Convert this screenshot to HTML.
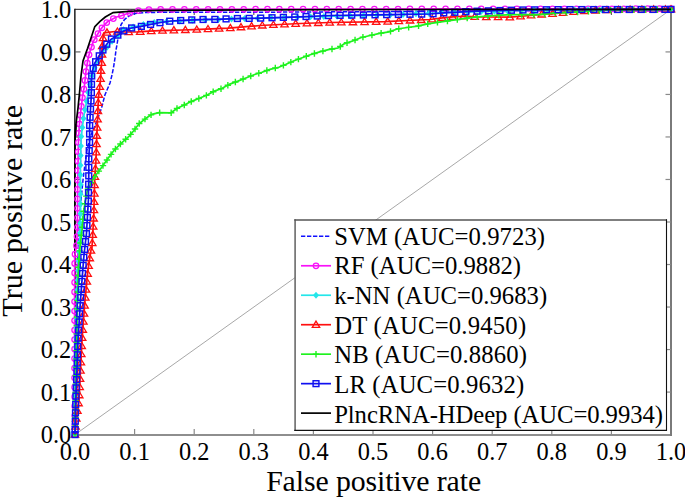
<!DOCTYPE html>
<html><head><meta charset="utf-8"><style>
html,body{margin:0;padding:0;background:#fff;}
svg{display:block;}
text{font-family:"Liberation Serif",serif;fill:#000;}
</style></head><body>
<svg width="685" height="499" viewBox="0 0 685 499">
<rect width="685" height="499" fill="#fff"/>
<line x1="75.0" y1="434.6" x2="671.0" y2="9.4" stroke="#a8a8a8" stroke-width="1"/>
<line x1="74" y1="435" x2="672" y2="435" stroke="#8e8e8e" stroke-width="2"/>
<line x1="671" y1="436" x2="671" y2="9" stroke="#7a7a7a" stroke-width="2"/>
<line x1="74.85" y1="9.4" x2="671" y2="9.4" stroke="#444" stroke-width="1.2"/>
<line x1="74.85" y1="435" x2="74.85" y2="8.8" stroke="#1e1e1e" stroke-width="1.5"/>
<line x1="134.6" y1="434.6" x2="134.6" y2="429.1" stroke="#8a8a8a" stroke-width="1.2"/>
<line x1="134.6" y1="9.4" x2="134.6" y2="14.9" stroke="#555" stroke-width="1.1"/>
<line x1="75" y1="392.08" x2="80.5" y2="392.08" stroke="#555" stroke-width="1.1"/>
<line x1="671" y1="392.08" x2="665.5" y2="392.08" stroke="#8a8a8a" stroke-width="1.2"/>
<line x1="194.2" y1="434.6" x2="194.2" y2="429.1" stroke="#8a8a8a" stroke-width="1.2"/>
<line x1="194.2" y1="9.4" x2="194.2" y2="14.9" stroke="#555" stroke-width="1.1"/>
<line x1="75" y1="349.56" x2="80.5" y2="349.56" stroke="#555" stroke-width="1.1"/>
<line x1="671" y1="349.56" x2="665.5" y2="349.56" stroke="#8a8a8a" stroke-width="1.2"/>
<line x1="253.8" y1="434.6" x2="253.8" y2="429.1" stroke="#8a8a8a" stroke-width="1.2"/>
<line x1="253.8" y1="9.4" x2="253.8" y2="14.9" stroke="#555" stroke-width="1.1"/>
<line x1="75" y1="307.04" x2="80.5" y2="307.04" stroke="#555" stroke-width="1.1"/>
<line x1="671" y1="307.04" x2="665.5" y2="307.04" stroke="#8a8a8a" stroke-width="1.2"/>
<line x1="313.4" y1="434.6" x2="313.4" y2="429.1" stroke="#8a8a8a" stroke-width="1.2"/>
<line x1="313.4" y1="9.4" x2="313.4" y2="14.9" stroke="#555" stroke-width="1.1"/>
<line x1="75" y1="264.52" x2="80.5" y2="264.52" stroke="#555" stroke-width="1.1"/>
<line x1="671" y1="264.52" x2="665.5" y2="264.52" stroke="#8a8a8a" stroke-width="1.2"/>
<line x1="373" y1="434.6" x2="373" y2="429.1" stroke="#8a8a8a" stroke-width="1.2"/>
<line x1="373" y1="9.4" x2="373" y2="14.9" stroke="#555" stroke-width="1.1"/>
<line x1="75" y1="222" x2="80.5" y2="222" stroke="#555" stroke-width="1.1"/>
<line x1="671" y1="222" x2="665.5" y2="222" stroke="#8a8a8a" stroke-width="1.2"/>
<line x1="432.6" y1="434.6" x2="432.6" y2="429.1" stroke="#8a8a8a" stroke-width="1.2"/>
<line x1="432.6" y1="9.4" x2="432.6" y2="14.9" stroke="#555" stroke-width="1.1"/>
<line x1="75" y1="179.48" x2="80.5" y2="179.48" stroke="#555" stroke-width="1.1"/>
<line x1="671" y1="179.48" x2="665.5" y2="179.48" stroke="#8a8a8a" stroke-width="1.2"/>
<line x1="492.2" y1="434.6" x2="492.2" y2="429.1" stroke="#8a8a8a" stroke-width="1.2"/>
<line x1="492.2" y1="9.4" x2="492.2" y2="14.9" stroke="#555" stroke-width="1.1"/>
<line x1="75" y1="136.96" x2="80.5" y2="136.96" stroke="#555" stroke-width="1.1"/>
<line x1="671" y1="136.96" x2="665.5" y2="136.96" stroke="#8a8a8a" stroke-width="1.2"/>
<line x1="551.8" y1="434.6" x2="551.8" y2="429.1" stroke="#8a8a8a" stroke-width="1.2"/>
<line x1="551.8" y1="9.4" x2="551.8" y2="14.9" stroke="#555" stroke-width="1.1"/>
<line x1="75" y1="94.44" x2="80.5" y2="94.44" stroke="#555" stroke-width="1.1"/>
<line x1="671" y1="94.44" x2="665.5" y2="94.44" stroke="#8a8a8a" stroke-width="1.2"/>
<line x1="611.4" y1="434.6" x2="611.4" y2="429.1" stroke="#8a8a8a" stroke-width="1.2"/>
<line x1="611.4" y1="9.4" x2="611.4" y2="14.9" stroke="#555" stroke-width="1.1"/>
<line x1="75" y1="51.92" x2="80.5" y2="51.92" stroke="#555" stroke-width="1.1"/>
<line x1="671" y1="51.92" x2="665.5" y2="51.92" stroke="#8a8a8a" stroke-width="1.2"/>
<polyline points="74.85,434.6 74.85,300 74.85,200 75,140 76,124" fill="none" stroke="#000000" stroke-width="1.7" stroke-linejoin="miter"/>
<polyline points="75,434.6 75.5,350 77,280 79,230 81,200 83,180 84,172 84.8,165.5 87,150 91,135 94.4,127 97.6,119 101.6,107.8 104.9,95 107,90 110,83 112,75 113.6,67 115,58 116,50 117,44.7 118.3,36.3 119.5,29 121.3,24.2 124.5,19.6 129.8,15.3 135,13.5 143.8,12.6 160,12.3 250,12.3 400,11.5 550,10.3 671,9.4" fill="none" stroke="#1010ff" stroke-width="1.5" stroke-dasharray="4.3 1.7"/>
<polyline points="74.85,434.6 74.6,380 74.6,300 74.7,256 76.8,244 77.4,225 77.6,190 78,165 78.4,143 79.2,127 80.8,111 82.5,97 84.3,87 85.3,78 86,71 87,65 88,59 89.5,53 91.5,47 93.5,41 96,36.9 98.5,32.7 100.9,29 103.9,25.4 107.5,21.8 111.7,19.4 116.5,17 121.3,15.8 126.1,14 130.9,12.8 136,11 145,9.6 160,9.4 400,9 671,8.7" fill="none" stroke="#f812f8" stroke-width="1.7"/>
<circle cx="74.85" cy="434.6" r="2.75" fill="none" stroke="#f812f8" stroke-width="1.25"/>
<circle cx="74.81" cy="425.11" r="2.75" fill="none" stroke="#f812f8" stroke-width="1.25"/>
<circle cx="74.76" cy="415.62" r="2.75" fill="none" stroke="#f812f8" stroke-width="1.25"/>
<circle cx="74.72" cy="406.13" r="2.75" fill="none" stroke="#f812f8" stroke-width="1.25"/>
<circle cx="74.68" cy="396.64" r="2.75" fill="none" stroke="#f812f8" stroke-width="1.25"/>
<circle cx="74.63" cy="387.16" r="2.75" fill="none" stroke="#f812f8" stroke-width="1.25"/>
<circle cx="74.6" cy="377.66" r="2.75" fill="none" stroke="#f812f8" stroke-width="1.25"/>
<circle cx="74.6" cy="368.14" r="2.75" fill="none" stroke="#f812f8" stroke-width="1.25"/>
<circle cx="74.6" cy="358.62" r="2.75" fill="none" stroke="#f812f8" stroke-width="1.25"/>
<circle cx="74.6" cy="349.1" r="2.75" fill="none" stroke="#f812f8" stroke-width="1.25"/>
<circle cx="74.6" cy="339.58" r="2.75" fill="none" stroke="#f812f8" stroke-width="1.25"/>
<circle cx="74.6" cy="330.06" r="2.75" fill="none" stroke="#f812f8" stroke-width="1.25"/>
<circle cx="74.6" cy="320.54" r="2.75" fill="none" stroke="#f812f8" stroke-width="1.25"/>
<circle cx="74.6" cy="311.02" r="2.75" fill="none" stroke="#f812f8" stroke-width="1.25"/>
<circle cx="74.6" cy="301.5" r="2.75" fill="none" stroke="#f812f8" stroke-width="1.25"/>
<circle cx="74.62" cy="291.99" r="2.75" fill="none" stroke="#f812f8" stroke-width="1.25"/>
<circle cx="74.64" cy="282.49" r="2.75" fill="none" stroke="#f812f8" stroke-width="1.25"/>
<circle cx="74.66" cy="272.98" r="2.75" fill="none" stroke="#f812f8" stroke-width="1.25"/>
<circle cx="74.68" cy="263.48" r="2.75" fill="none" stroke="#f812f8" stroke-width="1.25"/>
<circle cx="75.02" cy="254.2" r="2.75" fill="none" stroke="#f812f8" stroke-width="1.25"/>
<circle cx="76.5" cy="245.73" r="2.75" fill="none" stroke="#f812f8" stroke-width="1.25"/>
<circle cx="77.03" cy="236.6" r="2.75" fill="none" stroke="#f812f8" stroke-width="1.25"/>
<circle cx="77.33" cy="227.29" r="2.75" fill="none" stroke="#f812f8" stroke-width="1.25"/>
<circle cx="77.44" cy="217.85" r="2.75" fill="none" stroke="#f812f8" stroke-width="1.25"/>
<circle cx="77.5" cy="208.37" r="2.75" fill="none" stroke="#f812f8" stroke-width="1.25"/>
<circle cx="77.55" cy="198.89" r="2.75" fill="none" stroke="#f812f8" stroke-width="1.25"/>
<circle cx="77.61" cy="189.41" r="2.75" fill="none" stroke="#f812f8" stroke-width="1.25"/>
<circle cx="77.76" cy="180" r="2.75" fill="none" stroke="#f812f8" stroke-width="1.25"/>
<circle cx="77.91" cy="170.58" r="2.75" fill="none" stroke="#f812f8" stroke-width="1.25"/>
<circle cx="78.07" cy="161.18" r="2.75" fill="none" stroke="#f812f8" stroke-width="1.25"/>
<circle cx="78.24" cy="151.78" r="2.75" fill="none" stroke="#f812f8" stroke-width="1.25"/>
<circle cx="78.43" cy="142.39" r="2.75" fill="none" stroke="#f812f8" stroke-width="1.25"/>
<circle cx="78.89" cy="133.2" r="2.75" fill="none" stroke="#f812f8" stroke-width="1.25"/>
<circle cx="79.49" cy="124.11" r="2.75" fill="none" stroke="#f812f8" stroke-width="1.25"/>
<circle cx="80.38" cy="115.23" r="2.75" fill="none" stroke="#f812f8" stroke-width="1.25"/>
<circle cx="81.36" cy="106.41" r="2.75" fill="none" stroke="#f812f8" stroke-width="1.25"/>
<circle cx="82.42" cy="97.65" r="2.75" fill="none" stroke="#f812f8" stroke-width="1.25"/>
<circle cx="83.91" cy="89.19" r="2.75" fill="none" stroke="#f812f8" stroke-width="1.25"/>
<circle cx="85.03" cy="80.47" r="2.75" fill="none" stroke="#f812f8" stroke-width="1.25"/>
<circle cx="85.94" cy="71.6" r="2.75" fill="none" stroke="#f812f8" stroke-width="1.25"/>
<circle cx="87.32" cy="63.07" r="2.75" fill="none" stroke="#f812f8" stroke-width="1.25"/>
<circle cx="89.05" cy="54.78" r="2.75" fill="none" stroke="#f812f8" stroke-width="1.25"/>
<circle cx="91.5" cy="47.01" r="2.75" fill="none" stroke="#f812f8" stroke-width="1.25"/>
<circle cx="94.31" cy="39.68" r="2.75" fill="none" stroke="#f812f8" stroke-width="1.25"/>
<circle cx="97.95" cy="33.62" r="2.75" fill="none" stroke="#f812f8" stroke-width="1.25"/>
<circle cx="101.92" cy="27.78" r="2.75" fill="none" stroke="#f812f8" stroke-width="1.25"/>
<circle cx="106.74" cy="22.56" r="2.75" fill="none" stroke="#f812f8" stroke-width="1.25"/>
<circle cx="113.33" cy="18.59" r="2.75" fill="none" stroke="#f812f8" stroke-width="1.25"/>
<circle cx="121.47" cy="15.74" r="2.75" fill="none" stroke="#f812f8" stroke-width="1.25"/>
<circle cx="129.86" cy="13.06" r="2.75" fill="none" stroke="#f812f8" stroke-width="1.25"/>
<circle cx="138.51" cy="10.61" r="2.75" fill="none" stroke="#f812f8" stroke-width="1.25"/>
<circle cx="148.93" cy="9.55" r="2.75" fill="none" stroke="#f812f8" stroke-width="1.25"/>
<circle cx="160.62" cy="9.4" r="2.75" fill="none" stroke="#f812f8" stroke-width="1.25"/>
<circle cx="172.49" cy="9.38" r="2.75" fill="none" stroke="#f812f8" stroke-width="1.25"/>
<circle cx="184.36" cy="9.36" r="2.75" fill="none" stroke="#f812f8" stroke-width="1.25"/>
<circle cx="196.23" cy="9.34" r="2.75" fill="none" stroke="#f812f8" stroke-width="1.25"/>
<circle cx="208.11" cy="9.32" r="2.75" fill="none" stroke="#f812f8" stroke-width="1.25"/>
<circle cx="219.98" cy="9.3" r="2.75" fill="none" stroke="#f812f8" stroke-width="1.25"/>
<circle cx="231.85" cy="9.28" r="2.75" fill="none" stroke="#f812f8" stroke-width="1.25"/>
<circle cx="243.72" cy="9.26" r="2.75" fill="none" stroke="#f812f8" stroke-width="1.25"/>
<circle cx="255.6" cy="9.24" r="2.75" fill="none" stroke="#f812f8" stroke-width="1.25"/>
<circle cx="267.47" cy="9.22" r="2.75" fill="none" stroke="#f812f8" stroke-width="1.25"/>
<circle cx="279.34" cy="9.2" r="2.75" fill="none" stroke="#f812f8" stroke-width="1.25"/>
<circle cx="291.21" cy="9.18" r="2.75" fill="none" stroke="#f812f8" stroke-width="1.25"/>
<circle cx="303.08" cy="9.16" r="2.75" fill="none" stroke="#f812f8" stroke-width="1.25"/>
<circle cx="314.96" cy="9.14" r="2.75" fill="none" stroke="#f812f8" stroke-width="1.25"/>
<circle cx="326.83" cy="9.12" r="2.75" fill="none" stroke="#f812f8" stroke-width="1.25"/>
<circle cx="338.7" cy="9.1" r="2.75" fill="none" stroke="#f812f8" stroke-width="1.25"/>
<circle cx="350.57" cy="9.08" r="2.75" fill="none" stroke="#f812f8" stroke-width="1.25"/>
<circle cx="362.45" cy="9.06" r="2.75" fill="none" stroke="#f812f8" stroke-width="1.25"/>
<circle cx="374.32" cy="9.04" r="2.75" fill="none" stroke="#f812f8" stroke-width="1.25"/>
<circle cx="386.19" cy="9.02" r="2.75" fill="none" stroke="#f812f8" stroke-width="1.25"/>
<circle cx="398.06" cy="9" r="2.75" fill="none" stroke="#f812f8" stroke-width="1.25"/>
<circle cx="409.94" cy="8.99" r="2.75" fill="none" stroke="#f812f8" stroke-width="1.25"/>
<circle cx="421.82" cy="8.98" r="2.75" fill="none" stroke="#f812f8" stroke-width="1.25"/>
<circle cx="433.71" cy="8.96" r="2.75" fill="none" stroke="#f812f8" stroke-width="1.25"/>
<circle cx="445.59" cy="8.95" r="2.75" fill="none" stroke="#f812f8" stroke-width="1.25"/>
<circle cx="457.47" cy="8.94" r="2.75" fill="none" stroke="#f812f8" stroke-width="1.25"/>
<circle cx="469.35" cy="8.92" r="2.75" fill="none" stroke="#f812f8" stroke-width="1.25"/>
<circle cx="481.23" cy="8.91" r="2.75" fill="none" stroke="#f812f8" stroke-width="1.25"/>
<circle cx="493.11" cy="8.9" r="2.75" fill="none" stroke="#f812f8" stroke-width="1.25"/>
<circle cx="505" cy="8.88" r="2.75" fill="none" stroke="#f812f8" stroke-width="1.25"/>
<circle cx="516.88" cy="8.87" r="2.75" fill="none" stroke="#f812f8" stroke-width="1.25"/>
<circle cx="528.76" cy="8.86" r="2.75" fill="none" stroke="#f812f8" stroke-width="1.25"/>
<circle cx="540.64" cy="8.84" r="2.75" fill="none" stroke="#f812f8" stroke-width="1.25"/>
<circle cx="552.52" cy="8.83" r="2.75" fill="none" stroke="#f812f8" stroke-width="1.25"/>
<circle cx="564.4" cy="8.82" r="2.75" fill="none" stroke="#f812f8" stroke-width="1.25"/>
<circle cx="576.29" cy="8.8" r="2.75" fill="none" stroke="#f812f8" stroke-width="1.25"/>
<circle cx="588.17" cy="8.79" r="2.75" fill="none" stroke="#f812f8" stroke-width="1.25"/>
<circle cx="600.05" cy="8.78" r="2.75" fill="none" stroke="#f812f8" stroke-width="1.25"/>
<circle cx="611.93" cy="8.77" r="2.75" fill="none" stroke="#f812f8" stroke-width="1.25"/>
<circle cx="623.81" cy="8.75" r="2.75" fill="none" stroke="#f812f8" stroke-width="1.25"/>
<circle cx="635.69" cy="8.74" r="2.75" fill="none" stroke="#f812f8" stroke-width="1.25"/>
<circle cx="647.57" cy="8.73" r="2.75" fill="none" stroke="#f812f8" stroke-width="1.25"/>
<circle cx="659.46" cy="8.71" r="2.75" fill="none" stroke="#f812f8" stroke-width="1.25"/>
<circle cx="671" cy="8.7" r="2.75" fill="none" stroke="#f812f8" stroke-width="1.25"/>
<polyline points="75,434.6 75.5,380 76.5,320 77.8,280 79.5,247 80.5,220 80.6,190 80.3,172 80.5,164 80.8,150 81.2,137 82.4,127 84,115 85.8,106 88,94 91,80 95.6,64.2 99.5,58 104,51 109,45 113,40 118,35.5 122.8,30 130,27.5 140,25.6 147.3,23.2 160,21.8 200,20 250,18.4 300,17 390,15 450,12.4 520,10.6 560,9.8 671,9.4" fill="none" stroke="#24e6ea" stroke-width="1.7"/>
<path d="M75 431.1L78.01 434.6L75 438.1L71.99 434.6Z" fill="#24e6ea"/>
<path d="M75.09 421.39L78.1 424.89L75.09 428.39L72.08 424.89Z" fill="#24e6ea"/>
<path d="M75.18 411.68L78.19 415.18L75.18 418.68L72.17 415.18Z" fill="#24e6ea"/>
<path d="M75.27 401.97L78.28 405.47L75.27 408.97L72.26 405.47Z" fill="#24e6ea"/>
<path d="M75.36 392.25L78.37 395.75L75.36 399.25L72.35 395.75Z" fill="#24e6ea"/>
<path d="M75.44 382.54L78.45 386.04L75.44 389.54L72.43 386.04Z" fill="#24e6ea"/>
<path d="M75.56 372.85L78.57 376.35L75.56 379.85L72.55 376.35Z" fill="#24e6ea"/>
<path d="M75.72 363.19L78.73 366.69L75.72 370.19L72.71 366.69Z" fill="#24e6ea"/>
<path d="M75.88 353.53L78.89 357.03L75.88 360.53L72.87 357.03Z" fill="#24e6ea"/>
<path d="M76.04 343.87L79.05 347.37L76.04 350.87L73.03 347.37Z" fill="#24e6ea"/>
<path d="M76.2 334.21L79.21 337.71L76.2 341.21L73.19 337.71Z" fill="#24e6ea"/>
<path d="M76.37 324.55L79.38 328.05L76.37 331.55L73.36 328.05Z" fill="#24e6ea"/>
<path d="M76.55 314.91L79.56 318.41L76.55 321.91L73.54 318.41Z" fill="#24e6ea"/>
<path d="M76.86 305.36L79.87 308.86L76.86 312.36L73.85 308.86Z" fill="#24e6ea"/>
<path d="M77.17 295.8L80.18 299.3L77.17 302.8L74.16 299.3Z" fill="#24e6ea"/>
<path d="M77.48 286.25L80.49 289.75L77.48 293.25L74.47 289.75Z" fill="#24e6ea"/>
<path d="M77.79 276.7L80.8 280.2L77.79 283.7L74.78 280.2Z" fill="#24e6ea"/>
<path d="M78.28 267.26L81.29 270.76L78.28 274.26L75.27 270.76Z" fill="#24e6ea"/>
<path d="M78.76 257.84L81.77 261.34L78.76 264.84L75.75 261.34Z" fill="#24e6ea"/>
<path d="M79.25 248.41L82.26 251.91L79.25 255.41L76.24 251.91Z" fill="#24e6ea"/>
<path d="M79.67 238.94L82.68 242.44L79.67 245.94L76.66 242.44Z" fill="#24e6ea"/>
<path d="M80.02 229.41L83.03 232.91L80.02 236.41L77.01 232.91Z" fill="#24e6ea"/>
<path d="M80.37 219.89L83.38 223.39L80.37 226.89L77.36 223.39Z" fill="#24e6ea"/>
<path d="M80.52 210.22L83.53 213.72L80.52 217.22L77.51 213.72Z" fill="#24e6ea"/>
<path d="M80.55 200.47L83.56 203.97L80.55 207.47L77.54 203.97Z" fill="#24e6ea"/>
<path d="M80.59 190.71L83.6 194.21L80.59 197.71L77.58 194.21Z" fill="#24e6ea"/>
<path d="M80.51 181.02L83.52 184.52L80.51 188.02L77.5 184.52Z" fill="#24e6ea"/>
<path d="M80.35 171.36L83.36 174.86L80.35 178.36L77.34 174.86Z" fill="#24e6ea"/>
<path d="M80.47 161.74L83.48 165.24L80.47 168.74L77.46 165.24Z" fill="#24e6ea"/>
<path d="M80.68 152.11L83.69 155.61L80.68 159.11L77.67 155.61Z" fill="#24e6ea"/>
<path d="M80.92 142.51L83.93 146.01L80.92 149.51L77.91 146.01Z" fill="#24e6ea"/>
<path d="M81.26 132.98L84.27 136.48L81.26 139.98L78.25 136.48Z" fill="#24e6ea"/>
<path d="M82.34 123.97L85.35 127.47L82.34 130.97L79.33 127.47Z" fill="#24e6ea"/>
<path d="M83.53 115.04L86.54 118.54L83.53 122.04L80.52 118.54Z" fill="#24e6ea"/>
<path d="M85.03 106.34L88.04 109.84L85.03 113.34L82.02 109.84Z" fill="#24e6ea"/>
<path d="M86.67 97.74L89.68 101.24L86.67 104.74L83.66 101.24Z" fill="#24e6ea"/>
<path d="M88.29 89.12L91.3 92.62L88.29 96.12L85.28 92.62Z" fill="#24e6ea"/>
<path d="M90.11 80.65L93.12 84.15L90.11 87.65L87.1 84.15Z" fill="#24e6ea"/>
<path d="M92.2 72.37L95.21 75.87L92.2 79.37L89.19 75.87Z" fill="#24e6ea"/>
<path d="M94.56 64.27L97.57 67.77L94.56 71.27L91.55 67.77Z" fill="#24e6ea"/>
<path d="M97.97 56.93L100.98 60.43L97.97 63.93L94.96 60.43Z" fill="#24e6ea"/>
<path d="M102.25 50.22L105.26 53.72L102.25 57.22L99.24 53.72Z" fill="#24e6ea"/>
<path d="M107.03 43.86L110.04 47.36L107.03 50.86L104.02 47.36Z" fill="#24e6ea"/>
<path d="M112.06 37.68L115.07 41.18L112.06 44.68L109.05 41.18Z" fill="#24e6ea"/>
<path d="M117.91 32.08L120.92 35.58L117.91 39.08L114.9 35.58Z" fill="#24e6ea"/>
<path d="M123.46 26.27L126.47 29.77L123.46 33.27L120.45 29.77Z" fill="#24e6ea"/>
<path d="M133.14 23.4L136.15 26.9L133.14 30.4L130.13 26.9Z" fill="#24e6ea"/>
<path d="M143.42 20.98L146.43 24.48L143.42 27.98L140.41 24.48Z" fill="#24e6ea"/>
<path d="M154.25 18.93L157.26 22.43L154.25 25.93L151.24 22.43Z" fill="#24e6ea"/>
<path d="M166.63 18L169.64 21.5L166.63 25L163.62 21.5Z" fill="#24e6ea"/>
<path d="M179.5 17.42L182.51 20.92L179.5 24.42L176.49 20.92Z" fill="#24e6ea"/>
<path d="M192.38 16.84L195.39 20.34L192.38 23.84L189.37 20.34Z" fill="#24e6ea"/>
<path d="M205.34 16.33L208.35 19.83L205.34 23.33L202.33 19.83Z" fill="#24e6ea"/>
<path d="M218.44 15.91L221.45 19.41L218.44 22.91L215.43 19.41Z" fill="#24e6ea"/>
<path d="M231.54 15.49L234.55 18.99L231.54 22.49L228.53 18.99Z" fill="#24e6ea"/>
<path d="M244.64 15.07L247.65 18.57L244.64 22.07L241.63 18.57Z" fill="#24e6ea"/>
<path d="M257.78 14.68L260.79 18.18L257.78 21.68L254.77 18.18Z" fill="#24e6ea"/>
<path d="M270.94 14.31L273.95 17.81L270.94 21.31L267.93 17.81Z" fill="#24e6ea"/>
<path d="M284.11 13.94L287.12 17.44L284.11 20.94L281.1 17.44Z" fill="#24e6ea"/>
<path d="M297.28 13.58L300.29 17.08L297.28 20.58L294.27 17.08Z" fill="#24e6ea"/>
<path d="M310.53 13.27L313.54 16.77L310.53 20.27L307.52 16.77Z" fill="#24e6ea"/>
<path d="M323.8 12.97L326.81 16.47L323.8 19.97L320.79 16.47Z" fill="#24e6ea"/>
<path d="M337.08 12.68L340.09 16.18L337.08 19.68L334.07 16.18Z" fill="#24e6ea"/>
<path d="M350.35 12.38L353.36 15.88L350.35 19.38L347.34 15.88Z" fill="#24e6ea"/>
<path d="M363.62 12.09L366.63 15.59L363.62 19.09L360.61 15.59Z" fill="#24e6ea"/>
<path d="M376.89 11.79L379.9 15.29L376.89 18.79L373.88 15.29Z" fill="#24e6ea"/>
<path d="M390.16 11.49L393.17 14.99L390.16 18.49L387.15 14.99Z" fill="#24e6ea"/>
<path d="M403.06 10.93L406.07 14.43L403.06 17.93L400.05 14.43Z" fill="#24e6ea"/>
<path d="M415.96 10.37L418.97 13.87L415.96 17.37L412.95 13.87Z" fill="#24e6ea"/>
<path d="M428.87 9.82L431.88 13.32L428.87 16.82L425.86 13.32Z" fill="#24e6ea"/>
<path d="M441.77 9.26L444.78 12.76L441.77 16.26L438.76 12.76Z" fill="#24e6ea"/>
<path d="M454.78 8.78L457.79 12.28L454.78 15.78L451.77 12.28Z" fill="#24e6ea"/>
<path d="M467.99 8.44L471 11.94L467.99 15.44L464.98 11.94Z" fill="#24e6ea"/>
<path d="M481.2 8.1L484.21 11.6L481.2 15.1L478.19 11.6Z" fill="#24e6ea"/>
<path d="M494.41 7.76L497.42 11.26L494.41 14.76L491.4 11.26Z" fill="#24e6ea"/>
<path d="M507.62 7.42L510.63 10.92L507.62 14.42L504.61 10.92Z" fill="#24e6ea"/>
<path d="M520.84 7.08L523.85 10.58L520.84 14.08L517.83 10.58Z" fill="#24e6ea"/>
<path d="M534.15 6.82L537.16 10.32L534.15 13.82L531.14 10.32Z" fill="#24e6ea"/>
<path d="M547.46 6.55L550.47 10.05L547.46 13.55L544.45 10.05Z" fill="#24e6ea"/>
<path d="M560.79 6.3L563.8 9.8L560.79 13.3L557.78 9.8Z" fill="#24e6ea"/>
<path d="M574.41 6.25L577.42 9.75L574.41 13.25L571.4 9.75Z" fill="#24e6ea"/>
<path d="M588.02 6.2L591.03 9.7L588.02 13.2L585.01 9.7Z" fill="#24e6ea"/>
<path d="M601.64 6.15L604.65 9.65L601.64 13.15L598.63 9.65Z" fill="#24e6ea"/>
<path d="M615.26 6.1L618.27 9.6L615.26 13.1L612.25 9.6Z" fill="#24e6ea"/>
<path d="M628.87 6.05L631.88 9.55L628.87 13.05L625.86 9.55Z" fill="#24e6ea"/>
<path d="M642.49 6L645.5 9.5L642.49 13L639.48 9.5Z" fill="#24e6ea"/>
<path d="M656.11 5.95L659.12 9.45L656.11 12.95L653.1 9.45Z" fill="#24e6ea"/>
<path d="M671 5.9L674.01 9.4L671 12.9L667.99 9.4Z" fill="#24e6ea"/>
<polyline points="75,434.6 76,420 79,400 82,340 85,300 88,270 91,250 92,247.5 93.8,215 94.7,180 95.2,172 96,160 96.8,135 97.6,119 98.4,98 99.5,90 100.5,80 101,70 102,60 102,50 102.5,42 103.5,34 104,32.8 115,31.5 127,32 138,31.8 149,31.2 160,30.7 171,30.3 182.4,30 193.6,29.7 206,29.2 217,28.6 228.4,28.2 240.6,27.2 252,26.2 260,25.5 300,23.5 330,22.5 384.7,21.6 408,20.5 430,19.5 442.6,17.8 453,16.8 465.4,16.2 477.7,17 490.8,17 510,17.2 524.6,16 539,14.6 553.8,13.6 568.4,12.2 583,11 600,10.2 630,9.6 671,9.3" fill="none" stroke="#ff1010" stroke-width="1.7"/>
<path d="M75 431L78.7 437.2L71.3 437.2Z" fill="none" stroke="#ff1010" stroke-width="1.3" stroke-linejoin="miter"/>
<path d="M75.56 422.9L79.26 429.1L71.86 429.1Z" fill="none" stroke="#ff1010" stroke-width="1.3" stroke-linejoin="miter"/>
<path d="M76.23 414.88L79.93 421.08L72.53 421.08Z" fill="none" stroke="#ff1010" stroke-width="1.3" stroke-linejoin="miter"/>
<path d="M77.38 407.2L81.08 413.4L73.68 413.4Z" fill="none" stroke="#ff1010" stroke-width="1.3" stroke-linejoin="miter"/>
<path d="M78.53 399.53L82.23 405.73L74.83 405.73Z" fill="none" stroke="#ff1010" stroke-width="1.3" stroke-linejoin="miter"/>
<path d="M79.24 391.54L82.94 397.74L75.54 397.74Z" fill="none" stroke="#ff1010" stroke-width="1.3" stroke-linejoin="miter"/>
<path d="M79.65 383.33L83.35 389.53L75.95 389.53Z" fill="none" stroke="#ff1010" stroke-width="1.3" stroke-linejoin="miter"/>
<path d="M80.06 375.12L83.76 381.32L76.36 381.32Z" fill="none" stroke="#ff1010" stroke-width="1.3" stroke-linejoin="miter"/>
<path d="M80.47 366.91L84.17 373.11L76.77 373.11Z" fill="none" stroke="#ff1010" stroke-width="1.3" stroke-linejoin="miter"/>
<path d="M80.88 358.71L84.58 364.91L77.18 364.91Z" fill="none" stroke="#ff1010" stroke-width="1.3" stroke-linejoin="miter"/>
<path d="M81.3 350.5L85 356.7L77.6 356.7Z" fill="none" stroke="#ff1010" stroke-width="1.3" stroke-linejoin="miter"/>
<path d="M81.71 342.29L85.41 348.49L78.01 348.49Z" fill="none" stroke="#ff1010" stroke-width="1.3" stroke-linejoin="miter"/>
<path d="M82.17 334.13L85.87 340.33L78.47 340.33Z" fill="none" stroke="#ff1010" stroke-width="1.3" stroke-linejoin="miter"/>
<path d="M82.78 326.06L86.48 332.26L79.08 332.26Z" fill="none" stroke="#ff1010" stroke-width="1.3" stroke-linejoin="miter"/>
<path d="M83.38 317.99L87.08 324.19L79.68 324.19Z" fill="none" stroke="#ff1010" stroke-width="1.3" stroke-linejoin="miter"/>
<path d="M83.99 309.92L87.69 316.12L80.29 316.12Z" fill="none" stroke="#ff1010" stroke-width="1.3" stroke-linejoin="miter"/>
<path d="M84.59 301.85L88.29 308.05L80.89 308.05Z" fill="none" stroke="#ff1010" stroke-width="1.3" stroke-linejoin="miter"/>
<path d="M85.26 293.83L88.96 300.03L81.56 300.03Z" fill="none" stroke="#ff1010" stroke-width="1.3" stroke-linejoin="miter"/>
<path d="M86.05 285.9L89.75 292.1L82.35 292.1Z" fill="none" stroke="#ff1010" stroke-width="1.3" stroke-linejoin="miter"/>
<path d="M86.84 277.96L90.54 284.16L83.14 284.16Z" fill="none" stroke="#ff1010" stroke-width="1.3" stroke-linejoin="miter"/>
<path d="M87.64 270.03L91.34 276.23L83.94 276.23Z" fill="none" stroke="#ff1010" stroke-width="1.3" stroke-linejoin="miter"/>
<path d="M88.63 262.24L92.33 268.44L84.93 268.44Z" fill="none" stroke="#ff1010" stroke-width="1.3" stroke-linejoin="miter"/>
<path d="M89.78 254.56L93.48 260.76L86.08 260.76Z" fill="none" stroke="#ff1010" stroke-width="1.3" stroke-linejoin="miter"/>
<path d="M90.93 246.88L94.63 253.08L87.23 253.08Z" fill="none" stroke="#ff1010" stroke-width="1.3" stroke-linejoin="miter"/>
<path d="M92.25 239.33L95.95 245.53L88.55 245.53Z" fill="none" stroke="#ff1010" stroke-width="1.3" stroke-linejoin="miter"/>
<path d="M92.71 231.15L96.41 237.35L89.01 237.35Z" fill="none" stroke="#ff1010" stroke-width="1.3" stroke-linejoin="miter"/>
<path d="M93.16 222.97L96.86 229.17L89.46 229.17Z" fill="none" stroke="#ff1010" stroke-width="1.3" stroke-linejoin="miter"/>
<path d="M93.61 214.8L97.31 221L89.91 221Z" fill="none" stroke="#ff1010" stroke-width="1.3" stroke-linejoin="miter"/>
<path d="M93.93 206.52L97.63 212.72L90.23 212.72Z" fill="none" stroke="#ff1010" stroke-width="1.3" stroke-linejoin="miter"/>
<path d="M94.14 198.18L97.84 204.38L90.44 204.38Z" fill="none" stroke="#ff1010" stroke-width="1.3" stroke-linejoin="miter"/>
<path d="M94.35 189.83L98.05 196.03L90.65 196.03Z" fill="none" stroke="#ff1010" stroke-width="1.3" stroke-linejoin="miter"/>
<path d="M94.57 181.48L98.27 187.68L90.87 187.68Z" fill="none" stroke="#ff1010" stroke-width="1.3" stroke-linejoin="miter"/>
<path d="M94.9 173.22L98.6 179.42L91.2 179.42Z" fill="none" stroke="#ff1010" stroke-width="1.3" stroke-linejoin="miter"/>
<path d="M95.42 165.09L99.12 171.29L91.72 171.29Z" fill="none" stroke="#ff1010" stroke-width="1.3" stroke-linejoin="miter"/>
<path d="M95.96 156.98L99.66 163.18L92.26 163.18Z" fill="none" stroke="#ff1010" stroke-width="1.3" stroke-linejoin="miter"/>
<path d="M96.25 148.68L99.95 154.88L92.55 154.88Z" fill="none" stroke="#ff1010" stroke-width="1.3" stroke-linejoin="miter"/>
<path d="M96.51 140.37L100.21 146.57L92.81 146.57Z" fill="none" stroke="#ff1010" stroke-width="1.3" stroke-linejoin="miter"/>
<path d="M96.78 132.06L100.48 138.26L93.08 138.26Z" fill="none" stroke="#ff1010" stroke-width="1.3" stroke-linejoin="miter"/>
<path d="M97.18 123.85L100.88 130.05L93.48 130.05Z" fill="none" stroke="#ff1010" stroke-width="1.3" stroke-linejoin="miter"/>
<path d="M97.59 115.64L101.29 121.84L93.89 121.84Z" fill="none" stroke="#ff1010" stroke-width="1.3" stroke-linejoin="miter"/>
<path d="M97.91 107.37L101.61 113.57L94.21 113.57Z" fill="none" stroke="#ff1010" stroke-width="1.3" stroke-linejoin="miter"/>
<path d="M98.22 99.09L101.92 105.29L94.52 105.29Z" fill="none" stroke="#ff1010" stroke-width="1.3" stroke-linejoin="miter"/>
<path d="M98.86 91.05L102.56 97.25L95.16 97.25Z" fill="none" stroke="#ff1010" stroke-width="1.3" stroke-linejoin="miter"/>
<path d="M99.82 83.23L103.52 89.43L96.12 89.43Z" fill="none" stroke="#ff1010" stroke-width="1.3" stroke-linejoin="miter"/>
<path d="M100.56 75.26L104.26 81.46L96.86 81.46Z" fill="none" stroke="#ff1010" stroke-width="1.3" stroke-linejoin="miter"/>
<path d="M100.97 67.05L104.67 73.25L97.27 73.25Z" fill="none" stroke="#ff1010" stroke-width="1.3" stroke-linejoin="miter"/>
<path d="M101.73 59.1L105.43 65.3L98.03 65.3Z" fill="none" stroke="#ff1010" stroke-width="1.3" stroke-linejoin="miter"/>
<path d="M102 50.79L105.7 56.99L98.3 56.99Z" fill="none" stroke="#ff1010" stroke-width="1.3" stroke-linejoin="miter"/>
<path d="M102.25 42.47L105.95 48.67L98.55 48.67Z" fill="none" stroke="#ff1010" stroke-width="1.3" stroke-linejoin="miter"/>
<path d="M102.99 34.5L106.69 40.7L99.29 40.7Z" fill="none" stroke="#ff1010" stroke-width="1.3" stroke-linejoin="miter"/>
<path d="M106.99 28.85L110.69 35.05L103.29 35.05Z" fill="none" stroke="#ff1010" stroke-width="1.3" stroke-linejoin="miter"/>
<path d="M117.42 28L121.12 34.2L113.72 34.2Z" fill="none" stroke="#ff1010" stroke-width="1.3" stroke-linejoin="miter"/>
<path d="M128.72 28.37L132.42 34.57L125.02 34.57Z" fill="none" stroke="#ff1010" stroke-width="1.3" stroke-linejoin="miter"/>
<path d="M140.21 28.08L143.91 34.28L136.51 34.28Z" fill="none" stroke="#ff1010" stroke-width="1.3" stroke-linejoin="miter"/>
<path d="M151.29 27.5L154.99 33.7L147.59 33.7Z" fill="none" stroke="#ff1010" stroke-width="1.3" stroke-linejoin="miter"/>
<path d="M162.51 27.01L166.21 33.21L158.81 33.21Z" fill="none" stroke="#ff1010" stroke-width="1.3" stroke-linejoin="miter"/>
<path d="M173.87 26.63L177.57 32.83L170.17 32.83Z" fill="none" stroke="#ff1010" stroke-width="1.3" stroke-linejoin="miter"/>
<path d="M185.35 26.32L189.05 32.52L181.65 32.52Z" fill="none" stroke="#ff1010" stroke-width="1.3" stroke-linejoin="miter"/>
<path d="M196.76 25.98L200.46 32.18L193.06 32.18Z" fill="none" stroke="#ff1010" stroke-width="1.3" stroke-linejoin="miter"/>
<path d="M207.99 25.5L211.69 31.7L204.29 31.7Z" fill="none" stroke="#ff1010" stroke-width="1.3" stroke-linejoin="miter"/>
<path d="M219.1 24.93L222.8 31.13L215.4 31.13Z" fill="none" stroke="#ff1010" stroke-width="1.3" stroke-linejoin="miter"/>
<path d="M230.32 24.45L234.02 30.65L226.62 30.65Z" fill="none" stroke="#ff1010" stroke-width="1.3" stroke-linejoin="miter"/>
<path d="M240.99 23.57L244.69 29.77L237.29 29.77Z" fill="none" stroke="#ff1010" stroke-width="1.3" stroke-linejoin="miter"/>
<path d="M251.59 22.64L255.29 28.84L247.89 28.84Z" fill="none" stroke="#ff1010" stroke-width="1.3" stroke-linejoin="miter"/>
<path d="M262.3 21.79L266 27.99L258.6 27.99Z" fill="none" stroke="#ff1010" stroke-width="1.3" stroke-linejoin="miter"/>
<path d="M273.42 21.23L277.12 27.43L269.72 27.43Z" fill="none" stroke="#ff1010" stroke-width="1.3" stroke-linejoin="miter"/>
<path d="M284.54 20.68L288.24 26.88L280.84 26.88Z" fill="none" stroke="#ff1010" stroke-width="1.3" stroke-linejoin="miter"/>
<path d="M295.66 20.12L299.36 26.32L291.96 26.32Z" fill="none" stroke="#ff1010" stroke-width="1.3" stroke-linejoin="miter"/>
<path d="M306.94 19.67L310.64 25.87L303.24 25.87Z" fill="none" stroke="#ff1010" stroke-width="1.3" stroke-linejoin="miter"/>
<path d="M318.31 19.29L322.01 25.49L314.61 25.49Z" fill="none" stroke="#ff1010" stroke-width="1.3" stroke-linejoin="miter"/>
<path d="M329.68 18.91L333.38 25.11L325.98 25.11Z" fill="none" stroke="#ff1010" stroke-width="1.3" stroke-linejoin="miter"/>
<path d="M341.3 18.72L345 24.92L337.6 24.92Z" fill="none" stroke="#ff1010" stroke-width="1.3" stroke-linejoin="miter"/>
<path d="M352.93 18.53L356.63 24.73L349.23 24.73Z" fill="none" stroke="#ff1010" stroke-width="1.3" stroke-linejoin="miter"/>
<path d="M364.56 18.34L368.26 24.54L360.86 24.54Z" fill="none" stroke="#ff1010" stroke-width="1.3" stroke-linejoin="miter"/>
<path d="M376.2 18.14L379.9 24.34L372.5 24.34Z" fill="none" stroke="#ff1010" stroke-width="1.3" stroke-linejoin="miter"/>
<path d="M387.7 17.86L391.4 24.06L384 24.06Z" fill="none" stroke="#ff1010" stroke-width="1.3" stroke-linejoin="miter"/>
<path d="M398.86 17.34L402.56 23.54L395.16 23.54Z" fill="none" stroke="#ff1010" stroke-width="1.3" stroke-linejoin="miter"/>
<path d="M410.03 16.81L413.73 23.01L406.33 23.01Z" fill="none" stroke="#ff1010" stroke-width="1.3" stroke-linejoin="miter"/>
<path d="M421.22 16.3L424.92 22.5L417.52 22.5Z" fill="none" stroke="#ff1010" stroke-width="1.3" stroke-linejoin="miter"/>
<path d="M432.15 15.61L435.85 21.81L428.45 21.81Z" fill="none" stroke="#ff1010" stroke-width="1.3" stroke-linejoin="miter"/>
<path d="M442.16 14.26L445.86 20.46L438.46 20.46Z" fill="none" stroke="#ff1010" stroke-width="1.3" stroke-linejoin="miter"/>
<path d="M452.63 13.24L456.33 19.44L448.93 19.44Z" fill="none" stroke="#ff1010" stroke-width="1.3" stroke-linejoin="miter"/>
<path d="M463.75 12.68L467.45 18.88L460.05 18.88Z" fill="none" stroke="#ff1010" stroke-width="1.3" stroke-linejoin="miter"/>
<path d="M474.69 13.21L478.39 19.41L470.99 19.41Z" fill="none" stroke="#ff1010" stroke-width="1.3" stroke-linejoin="miter"/>
<path d="M486.32 13.4L490.02 19.6L482.62 19.6Z" fill="none" stroke="#ff1010" stroke-width="1.3" stroke-linejoin="miter"/>
<path d="M498.11 13.48L501.81 19.68L494.41 19.68Z" fill="none" stroke="#ff1010" stroke-width="1.3" stroke-linejoin="miter"/>
<path d="M509.84 13.6L513.54 19.8L506.14 19.8Z" fill="none" stroke="#ff1010" stroke-width="1.3" stroke-linejoin="miter"/>
<path d="M520.53 12.74L524.23 18.94L516.83 18.94Z" fill="none" stroke="#ff1010" stroke-width="1.3" stroke-linejoin="miter"/>
<path d="M531.08 11.77L534.78 17.97L527.38 17.97Z" fill="none" stroke="#ff1010" stroke-width="1.3" stroke-linejoin="miter"/>
<path d="M541.65 10.82L545.35 17.02L537.95 17.02Z" fill="none" stroke="#ff1010" stroke-width="1.3" stroke-linejoin="miter"/>
<path d="M552.52 10.09L556.22 16.29L548.82 16.29Z" fill="none" stroke="#ff1010" stroke-width="1.3" stroke-linejoin="miter"/>
<path d="M563.06 9.12L566.76 15.32L559.36 15.32Z" fill="none" stroke="#ff1010" stroke-width="1.3" stroke-linejoin="miter"/>
<path d="M573.64 8.17L577.34 14.37L569.94 14.37Z" fill="none" stroke="#ff1010" stroke-width="1.3" stroke-linejoin="miter"/>
<path d="M584.37 7.34L588.07 13.54L580.67 13.54Z" fill="none" stroke="#ff1010" stroke-width="1.3" stroke-linejoin="miter"/>
<path d="M595.53 6.81L599.23 13.01L591.83 13.01Z" fill="none" stroke="#ff1010" stroke-width="1.3" stroke-linejoin="miter"/>
<path d="M606.95 6.47L610.65 12.67L603.25 12.67Z" fill="none" stroke="#ff1010" stroke-width="1.3" stroke-linejoin="miter"/>
<path d="M618.52 6.23L622.22 12.43L614.82 12.43Z" fill="none" stroke="#ff1010" stroke-width="1.3" stroke-linejoin="miter"/>
<path d="M630.1 6L633.8 12.2L626.4 12.2Z" fill="none" stroke="#ff1010" stroke-width="1.3" stroke-linejoin="miter"/>
<path d="M641.88 5.92L645.58 12.12L638.18 12.12Z" fill="none" stroke="#ff1010" stroke-width="1.3" stroke-linejoin="miter"/>
<path d="M653.66 5.83L657.36 12.03L649.96 12.03Z" fill="none" stroke="#ff1010" stroke-width="1.3" stroke-linejoin="miter"/>
<path d="M665.44 5.74L669.14 11.94L661.74 11.94Z" fill="none" stroke="#ff1010" stroke-width="1.3" stroke-linejoin="miter"/>
<path d="M671 5.7L674.7 11.9L667.3 11.9Z" fill="none" stroke="#ff1010" stroke-width="1.3" stroke-linejoin="miter"/>
<polyline points="75,434.6 75.5,400 76.2,360 77.3,305 78.5,270 79.5,252 82,230 83.8,210 87.4,190 94,177.6 102.1,166.8 108.5,157.8 113.9,150.5 121.1,143.3 129.2,136.1 133.7,130.7 139.2,123.5 146.4,118 151.8,114.4 159,112.6 171,112.8 177.2,108.2 183.8,105.3 191.1,101.6 199.9,98 207.2,95 213.7,91.4 221.8,88.5 229.8,84.1 237.9,81.1 245.2,78.2 254.7,74.5 262,72.3 270,69.4 278.8,67.2 286.1,64.3 294.1,60.7 302.2,57.7 310.2,54.8 319.7,51.9 328.4,49.7 338,48 344.6,43.6 353.4,40.7 360.7,37.7 370.1,35.5 379.6,33.4 389.1,31.9 397.2,29 407.4,27.5 417.6,26.1 427.8,23.9 436,22.6 446.3,21.2 456.5,19.7 466.7,18.2 477,16.8 487.2,16 498.8,15.3 510.5,14.6 524.6,14.6 539.2,14.6 553.8,13.1 568.4,12.4 583,11.7 597.6,10.5 620,9.8 671,9.3" fill="none" stroke="#1ef21e" stroke-width="1.7"/>
<path d="M71.8 434.6H78.2M75 431.4V437.8" stroke="#1ef21e" stroke-width="1.4"/>
<path d="M71.92 426.19H78.32M75.12 422.99V429.39" stroke="#1ef21e" stroke-width="1.4"/>
<path d="M72.04 417.77H78.44M75.24 414.57V420.97" stroke="#1ef21e" stroke-width="1.4"/>
<path d="M72.16 409.36H78.56M75.36 406.16V412.56" stroke="#1ef21e" stroke-width="1.4"/>
<path d="M72.29 400.95H78.69M75.49 397.75V404.15" stroke="#1ef21e" stroke-width="1.4"/>
<path d="M72.43 392.55H78.83M75.63 389.35V395.75" stroke="#1ef21e" stroke-width="1.4"/>
<path d="M72.58 384.16H78.98M75.78 380.96V387.36" stroke="#1ef21e" stroke-width="1.4"/>
<path d="M72.72 375.76H79.12M75.92 372.56V378.96" stroke="#1ef21e" stroke-width="1.4"/>
<path d="M72.87 367.37H79.27M76.07 364.17V370.57" stroke="#1ef21e" stroke-width="1.4"/>
<path d="M73.02 358.97H79.42M76.22 355.77V362.17" stroke="#1ef21e" stroke-width="1.4"/>
<path d="M73.19 350.59H79.59M76.39 347.39V353.79" stroke="#1ef21e" stroke-width="1.4"/>
<path d="M73.36 342.21H79.76M76.56 339.01V345.41" stroke="#1ef21e" stroke-width="1.4"/>
<path d="M73.52 333.83H79.92M76.72 330.63V337.03" stroke="#1ef21e" stroke-width="1.4"/>
<path d="M73.69 325.45H80.09M76.89 322.25V328.65" stroke="#1ef21e" stroke-width="1.4"/>
<path d="M73.86 317.07H80.26M77.06 313.87V320.27" stroke="#1ef21e" stroke-width="1.4"/>
<path d="M74.03 308.69H80.43M77.23 305.49V311.89" stroke="#1ef21e" stroke-width="1.4"/>
<path d="M74.26 300.36H80.66M77.46 297.16V303.56" stroke="#1ef21e" stroke-width="1.4"/>
<path d="M74.54 292.06H80.94M77.74 288.86V295.26" stroke="#1ef21e" stroke-width="1.4"/>
<path d="M74.83 283.76H81.23M78.03 280.56V286.96" stroke="#1ef21e" stroke-width="1.4"/>
<path d="M75.11 275.47H81.51M78.31 272.27V278.67" stroke="#1ef21e" stroke-width="1.4"/>
<path d="M75.45 267.21H81.85M78.65 264.01V270.41" stroke="#1ef21e" stroke-width="1.4"/>
<path d="M75.91 259.04H82.31M79.11 255.84V262.24" stroke="#1ef21e" stroke-width="1.4"/>
<path d="M76.42 250.9H82.82M79.62 247.7V254.1" stroke="#1ef21e" stroke-width="1.4"/>
<path d="M77.32 243.04H83.72M80.52 239.84V246.24" stroke="#1ef21e" stroke-width="1.4"/>
<path d="M78.21 235.18H84.61M81.41 231.98V238.38" stroke="#1ef21e" stroke-width="1.4"/>
<path d="M79.05 227.28H85.45M82.25 224.08V230.48" stroke="#1ef21e" stroke-width="1.4"/>
<path d="M79.76 219.29H86.16M82.96 216.09V222.49" stroke="#1ef21e" stroke-width="1.4"/>
<path d="M80.48 211.3H86.88M83.68 208.1V214.5" stroke="#1ef21e" stroke-width="1.4"/>
<path d="M81.73 203.7H88.13M84.93 200.5V206.9" stroke="#1ef21e" stroke-width="1.4"/>
<path d="M83.09 196.16H89.49M86.29 192.96V199.36" stroke="#1ef21e" stroke-width="1.4"/>
<path d="M84.79 188.88H91.19M87.99 185.68V192.08" stroke="#1ef21e" stroke-width="1.4"/>
<path d="M88.07 182.72H94.47M91.27 179.52V185.92" stroke="#1ef21e" stroke-width="1.4"/>
<path d="M91.5 176.67H97.9M94.7 173.47V179.87" stroke="#1ef21e" stroke-width="1.4"/>
<path d="M95.65 171.13H102.05M98.85 167.93V174.33" stroke="#1ef21e" stroke-width="1.4"/>
<path d="M99.77 165.58H106.17M102.97 162.38V168.78" stroke="#1ef21e" stroke-width="1.4"/>
<path d="M103.78 159.94H110.18M106.98 156.74V163.14" stroke="#1ef21e" stroke-width="1.4"/>
<path d="M107.85 154.35H114.25M111.05 151.15V157.55" stroke="#1ef21e" stroke-width="1.4"/>
<path d="M112.22 148.98H118.62M115.42 145.78V152.18" stroke="#1ef21e" stroke-width="1.4"/>
<path d="M117.18 144.02H123.58M120.38 140.82V147.22" stroke="#1ef21e" stroke-width="1.4"/>
<path d="M122.44 139.27H128.84M125.64 136.07V142.47" stroke="#1ef21e" stroke-width="1.4"/>
<path d="M127.46 134.35H133.86M130.66 131.15V137.55" stroke="#1ef21e" stroke-width="1.4"/>
<path d="M131.82 128.97H138.22M135.02 125.77V132.17" stroke="#1ef21e" stroke-width="1.4"/>
<path d="M136.03 123.48H142.43M139.23 120.28V126.68" stroke="#1ef21e" stroke-width="1.4"/>
<path d="M141.78 119.09H148.18M144.98 115.89V122.29" stroke="#1ef21e" stroke-width="1.4"/>
<path d="M147.83 114.91H154.23M151.03 111.71V118.11" stroke="#1ef21e" stroke-width="1.4"/>
<path d="M156.48 112.61H162.88M159.68 109.41V115.81" stroke="#1ef21e" stroke-width="1.4"/>
<path d="M167.96 112.68H174.36M171.16 109.48V115.88" stroke="#1ef21e" stroke-width="1.4"/>
<path d="M173.79 108.35H180.19M176.99 105.15V111.55" stroke="#1ef21e" stroke-width="1.4"/>
<path d="M181.08 105.06H187.48M184.28 101.86V108.26" stroke="#1ef21e" stroke-width="1.4"/>
<path d="M188.05 101.54H194.45M191.25 98.34V104.74" stroke="#1ef21e" stroke-width="1.4"/>
<path d="M195.62 98.44H202.02M198.82 95.24V101.64" stroke="#1ef21e" stroke-width="1.4"/>
<path d="M203.17 95.34H209.57M206.37 92.14V98.54" stroke="#1ef21e" stroke-width="1.4"/>
<path d="M209.97 91.69H216.37M213.17 88.49V94.89" stroke="#1ef21e" stroke-width="1.4"/>
<path d="M217.8 88.79H224.2M221 85.59V91.99" stroke="#1ef21e" stroke-width="1.4"/>
<path d="M224.65 85.18H231.05M227.85 81.98V88.38" stroke="#1ef21e" stroke-width="1.4"/>
<path d="M232.16 82.04H238.56M235.36 78.84V85.24" stroke="#1ef21e" stroke-width="1.4"/>
<path d="M239.87 79.05H246.27M243.07 75.85V82.25" stroke="#1ef21e" stroke-width="1.4"/>
<path d="M247.55 76.04H253.95M250.75 72.84V79.24" stroke="#1ef21e" stroke-width="1.4"/>
<path d="M255.58 73.27H261.98M258.78 70.07V76.47" stroke="#1ef21e" stroke-width="1.4"/>
<path d="M263.66 70.54H270.06M266.86 67.34V73.74" stroke="#1ef21e" stroke-width="1.4"/>
<path d="M272.1 68.07H278.5M275.3 64.87V71.27" stroke="#1ef21e" stroke-width="1.4"/>
<path d="M280.21 65.37H286.61M283.41 62.17V68.57" stroke="#1ef21e" stroke-width="1.4"/>
<path d="M287.64 62.17H294.04M290.84 58.97V65.37" stroke="#1ef21e" stroke-width="1.4"/>
<path d="M295.23 59.1H301.63M298.43 55.9V62.3" stroke="#1ef21e" stroke-width="1.4"/>
<path d="M303.1 56.21H309.5M306.3 53.01V59.41" stroke="#1ef21e" stroke-width="1.4"/>
<path d="M311.22 53.51H317.62M314.42 50.31V56.71" stroke="#1ef21e" stroke-width="1.4"/>
<path d="M319.72 51.09H326.12M322.92 47.89V54.29" stroke="#1ef21e" stroke-width="1.4"/>
<path d="M328.79 49.06H335.19M331.99 45.86V52.26" stroke="#1ef21e" stroke-width="1.4"/>
<path d="M337.08 46.48H343.48M340.28 43.28V49.68" stroke="#1ef21e" stroke-width="1.4"/>
<path d="M343.82 42.8H350.22M347.02 39.6V46" stroke="#1ef21e" stroke-width="1.4"/>
<path d="M351.84 40.03H358.24M355.04 36.83V43.23" stroke="#1ef21e" stroke-width="1.4"/>
<path d="M359.74 37.17H366.14M362.94 33.97V40.37" stroke="#1ef21e" stroke-width="1.4"/>
<path d="M368.73 35.09H375.13M371.93 31.89V38.29" stroke="#1ef21e" stroke-width="1.4"/>
<path d="M377.92 33.16H384.32M381.12 29.96V36.36" stroke="#1ef21e" stroke-width="1.4"/>
<path d="M387.34 31.38H393.74M390.54 28.18V34.58" stroke="#1ef21e" stroke-width="1.4"/>
<path d="M395.58 28.77H401.98M398.78 25.57V31.97" stroke="#1ef21e" stroke-width="1.4"/>
<path d="M405.46 27.33H411.86M408.66 24.13V30.53" stroke="#1ef21e" stroke-width="1.4"/>
<path d="M415.35 25.89H421.75M418.55 22.69V29.09" stroke="#1ef21e" stroke-width="1.4"/>
<path d="M424.49 23.92H430.89M427.69 20.72V27.12" stroke="#1ef21e" stroke-width="1.4"/>
<path d="M434.26 22.4H440.66M437.46 19.2V25.6" stroke="#1ef21e" stroke-width="1.4"/>
<path d="M444.24 21.03H450.64M447.44 17.83V24.23" stroke="#1ef21e" stroke-width="1.4"/>
<path d="M454.11 19.58H460.51M457.31 16.38V22.78" stroke="#1ef21e" stroke-width="1.4"/>
<path d="M463.99 18.13H470.39M467.19 14.93V21.33" stroke="#1ef21e" stroke-width="1.4"/>
<path d="M474 16.78H480.4M477.2 13.58V19.98" stroke="#1ef21e" stroke-width="1.4"/>
<path d="M484.74 15.96H491.14M487.94 12.76V19.16" stroke="#1ef21e" stroke-width="1.4"/>
<path d="M495.71 15.29H502.11M498.91 12.09V18.49" stroke="#1ef21e" stroke-width="1.4"/>
<path d="M506.69 14.64H513.09M509.89 11.44V17.84" stroke="#1ef21e" stroke-width="1.4"/>
<path d="M518.54 14.6H524.94M521.74 11.4V17.8" stroke="#1ef21e" stroke-width="1.4"/>
<path d="M530.44 14.6H536.84M533.64 11.4V17.8" stroke="#1ef21e" stroke-width="1.4"/>
<path d="M541.54 14.03H547.94M544.74 10.83V17.23" stroke="#1ef21e" stroke-width="1.4"/>
<path d="M552.04 13.03H558.44M555.24 9.83V16.23" stroke="#1ef21e" stroke-width="1.4"/>
<path d="M563.19 12.5H569.59M566.39 9.3V15.7" stroke="#1ef21e" stroke-width="1.4"/>
<path d="M574.35 11.96H580.75M577.55 8.76V15.16" stroke="#1ef21e" stroke-width="1.4"/>
<path d="M585.25 11.25H591.65M588.45 8.05V14.45" stroke="#1ef21e" stroke-width="1.4"/>
<path d="M596.03 10.45H602.43M599.23 7.25V13.65" stroke="#1ef21e" stroke-width="1.4"/>
<path d="M607.43 10.09H613.83M610.63 6.89V13.29" stroke="#1ef21e" stroke-width="1.4"/>
<path d="M618.89 9.78H625.29M622.09 6.58V12.98" stroke="#1ef21e" stroke-width="1.4"/>
<path d="M630.63 9.66H637.03M633.83 6.46V12.86" stroke="#1ef21e" stroke-width="1.4"/>
<path d="M642.37 9.55H648.77M645.57 6.35V12.75" stroke="#1ef21e" stroke-width="1.4"/>
<path d="M654.11 9.43H660.51M657.31 6.23V12.63" stroke="#1ef21e" stroke-width="1.4"/>
<path d="M667.8 9.3H674.2M671 6.1V12.5" stroke="#1ef21e" stroke-width="1.4"/>
<polyline points="75,434.6 75.8,400 77,370 78,340 80.5,300 82.8,270 84,255 86.5,233 88.4,200 88.8,172 88.8,159 89.6,143 89.6,127 90.4,111 91.2,98 91.5,89 91.5,80 91.8,75 92.5,70.6 94.5,63.6 98.5,57 102.6,50.5 106.5,44.5 111,39.3 117.5,35.4 123.6,31 131.5,28 140.3,26.6 150.8,24.4 161,22.5 171,21 182.4,20.4 193.6,19.8 204.9,19.4 216,19.4 228.4,18.8 240.6,18.4 252,18.4 300,16.8 330,15.5 390,14.6 430,14 447,12.6 458.4,12.2 469.8,11.4 493.4,10.7 520,10 560,9.6 671,9.4" fill="none" stroke="#1010f0" stroke-width="1.7"/>
<rect x="72.1" y="431.7" width="5.8" height="5.8" fill="none" stroke="#1010f0" stroke-width="1.45"/>
<rect x="72.22" y="426.68" width="5.8" height="5.8" fill="none" stroke="#1010f0" stroke-width="1.45"/>
<rect x="72.41" y="418.32" width="5.8" height="5.8" fill="none" stroke="#1010f0" stroke-width="1.45"/>
<rect x="72.6" y="409.96" width="5.8" height="5.8" fill="none" stroke="#1010f0" stroke-width="1.45"/>
<rect x="72.8" y="401.6" width="5.8" height="5.8" fill="none" stroke="#1010f0" stroke-width="1.45"/>
<rect x="73.05" y="393.28" width="5.8" height="5.8" fill="none" stroke="#1010f0" stroke-width="1.45"/>
<rect x="73.38" y="385.02" width="5.8" height="5.8" fill="none" stroke="#1010f0" stroke-width="1.45"/>
<rect x="73.71" y="376.75" width="5.8" height="5.8" fill="none" stroke="#1010f0" stroke-width="1.45"/>
<rect x="74.04" y="368.49" width="5.8" height="5.8" fill="none" stroke="#1010f0" stroke-width="1.45"/>
<rect x="74.33" y="360.19" width="5.8" height="5.8" fill="none" stroke="#1010f0" stroke-width="1.45"/>
<rect x="74.61" y="351.89" width="5.8" height="5.8" fill="none" stroke="#1010f0" stroke-width="1.45"/>
<rect x="74.88" y="343.59" width="5.8" height="5.8" fill="none" stroke="#1010f0" stroke-width="1.45"/>
<rect x="75.21" y="335.32" width="5.8" height="5.8" fill="none" stroke="#1010f0" stroke-width="1.45"/>
<rect x="75.72" y="327.19" width="5.8" height="5.8" fill="none" stroke="#1010f0" stroke-width="1.45"/>
<rect x="76.23" y="319.05" width="5.8" height="5.8" fill="none" stroke="#1010f0" stroke-width="1.45"/>
<rect x="76.74" y="310.91" width="5.8" height="5.8" fill="none" stroke="#1010f0" stroke-width="1.45"/>
<rect x="77.25" y="302.78" width="5.8" height="5.8" fill="none" stroke="#1010f0" stroke-width="1.45"/>
<rect x="77.79" y="294.66" width="5.8" height="5.8" fill="none" stroke="#1010f0" stroke-width="1.45"/>
<rect x="78.4" y="286.6" width="5.8" height="5.8" fill="none" stroke="#1010f0" stroke-width="1.45"/>
<rect x="79.02" y="278.54" width="5.8" height="5.8" fill="none" stroke="#1010f0" stroke-width="1.45"/>
<rect x="79.64" y="270.49" width="5.8" height="5.8" fill="none" stroke="#1010f0" stroke-width="1.45"/>
<rect x="80.27" y="262.44" width="5.8" height="5.8" fill="none" stroke="#1010f0" stroke-width="1.45"/>
<rect x="80.92" y="254.4" width="5.8" height="5.8" fill="none" stroke="#1010f0" stroke-width="1.45"/>
<rect x="81.74" y="246.48" width="5.8" height="5.8" fill="none" stroke="#1010f0" stroke-width="1.45"/>
<rect x="82.63" y="238.62" width="5.8" height="5.8" fill="none" stroke="#1010f0" stroke-width="1.45"/>
<rect x="83.52" y="230.76" width="5.8" height="5.8" fill="none" stroke="#1010f0" stroke-width="1.45"/>
<rect x="84.03" y="222.62" width="5.8" height="5.8" fill="none" stroke="#1010f0" stroke-width="1.45"/>
<rect x="84.5" y="214.46" width="5.8" height="5.8" fill="none" stroke="#1010f0" stroke-width="1.45"/>
<rect x="84.97" y="206.29" width="5.8" height="5.8" fill="none" stroke="#1010f0" stroke-width="1.45"/>
<rect x="85.44" y="198.13" width="5.8" height="5.8" fill="none" stroke="#1010f0" stroke-width="1.45"/>
<rect x="85.61" y="189.75" width="5.8" height="5.8" fill="none" stroke="#1010f0" stroke-width="1.45"/>
<rect x="85.73" y="181.33" width="5.8" height="5.8" fill="none" stroke="#1010f0" stroke-width="1.45"/>
<rect x="85.85" y="172.92" width="5.8" height="5.8" fill="none" stroke="#1010f0" stroke-width="1.45"/>
<rect x="85.9" y="164.46" width="5.8" height="5.8" fill="none" stroke="#1010f0" stroke-width="1.45"/>
<rect x="85.91" y="155.96" width="5.8" height="5.8" fill="none" stroke="#1010f0" stroke-width="1.45"/>
<rect x="86.32" y="147.76" width="5.8" height="5.8" fill="none" stroke="#1010f0" stroke-width="1.45"/>
<rect x="86.7" y="139.53" width="5.8" height="5.8" fill="none" stroke="#1010f0" stroke-width="1.45"/>
<rect x="86.7" y="131.03" width="5.8" height="5.8" fill="none" stroke="#1010f0" stroke-width="1.45"/>
<rect x="86.78" y="122.58" width="5.8" height="5.8" fill="none" stroke="#1010f0" stroke-width="1.45"/>
<rect x="87.19" y="114.38" width="5.8" height="5.8" fill="none" stroke="#1010f0" stroke-width="1.45"/>
<rect x="87.62" y="106.18" width="5.8" height="5.8" fill="none" stroke="#1010f0" stroke-width="1.45"/>
<rect x="88.12" y="98.04" width="5.8" height="5.8" fill="none" stroke="#1010f0" stroke-width="1.45"/>
<rect x="88.48" y="89.8" width="5.8" height="5.8" fill="none" stroke="#1010f0" stroke-width="1.45"/>
<rect x="88.6" y="81.39" width="5.8" height="5.8" fill="none" stroke="#1010f0" stroke-width="1.45"/>
<rect x="88.84" y="73.06" width="5.8" height="5.8" fill="none" stroke="#1010f0" stroke-width="1.45"/>
<rect x="90.22" y="65.54" width="5.8" height="5.8" fill="none" stroke="#1010f0" stroke-width="1.45"/>
<rect x="92.73" y="58.84" width="5.8" height="5.8" fill="none" stroke="#1010f0" stroke-width="1.45"/>
<rect x="96.35" y="52.92" width="5.8" height="5.8" fill="none" stroke="#1010f0" stroke-width="1.45"/>
<rect x="100.05" y="47.06" width="5.8" height="5.8" fill="none" stroke="#1010f0" stroke-width="1.45"/>
<rect x="103.87" y="41.29" width="5.8" height="5.8" fill="none" stroke="#1010f0" stroke-width="1.45"/>
<rect x="108.55" y="36.13" width="5.8" height="5.8" fill="none" stroke="#1010f0" stroke-width="1.45"/>
<rect x="114.98" y="32.23" width="5.8" height="5.8" fill="none" stroke="#1010f0" stroke-width="1.45"/>
<rect x="120.96" y="28" width="5.8" height="5.8" fill="none" stroke="#1010f0" stroke-width="1.45"/>
<rect x="128.76" y="25.07" width="5.8" height="5.8" fill="none" stroke="#1010f0" stroke-width="1.45"/>
<rect x="138.44" y="23.48" width="5.8" height="5.8" fill="none" stroke="#1010f0" stroke-width="1.45"/>
<rect x="147.64" y="21.56" width="5.8" height="5.8" fill="none" stroke="#1010f0" stroke-width="1.45"/>
<rect x="157.07" y="19.79" width="5.8" height="5.8" fill="none" stroke="#1010f0" stroke-width="1.45"/>
<rect x="166.86" y="18.29" width="5.8" height="5.8" fill="none" stroke="#1010f0" stroke-width="1.45"/>
<rect x="177.79" y="17.59" width="5.8" height="5.8" fill="none" stroke="#1010f0" stroke-width="1.45"/>
<rect x="188.86" y="17" width="5.8" height="5.8" fill="none" stroke="#1010f0" stroke-width="1.45"/>
<rect x="200.15" y="16.57" width="5.8" height="5.8" fill="none" stroke="#1010f0" stroke-width="1.45"/>
<rect x="211.96" y="16.5" width="5.8" height="5.8" fill="none" stroke="#1010f0" stroke-width="1.45"/>
<rect x="223.18" y="16.01" width="5.8" height="5.8" fill="none" stroke="#1010f0" stroke-width="1.45"/>
<rect x="234.51" y="15.6" width="5.8" height="5.8" fill="none" stroke="#1010f0" stroke-width="1.45"/>
<rect x="246.26" y="15.5" width="5.8" height="5.8" fill="none" stroke="#1010f0" stroke-width="1.45"/>
<rect x="257.76" y="15.21" width="5.8" height="5.8" fill="none" stroke="#1010f0" stroke-width="1.45"/>
<rect x="269.13" y="14.83" width="5.8" height="5.8" fill="none" stroke="#1010f0" stroke-width="1.45"/>
<rect x="280.49" y="14.45" width="5.8" height="5.8" fill="none" stroke="#1010f0" stroke-width="1.45"/>
<rect x="291.86" y="14.07" width="5.8" height="5.8" fill="none" stroke="#1010f0" stroke-width="1.45"/>
<rect x="303.15" y="13.64" width="5.8" height="5.8" fill="none" stroke="#1010f0" stroke-width="1.45"/>
<rect x="314.37" y="13.15" width="5.8" height="5.8" fill="none" stroke="#1010f0" stroke-width="1.45"/>
<rect x="325.59" y="12.67" width="5.8" height="5.8" fill="none" stroke="#1010f0" stroke-width="1.45"/>
<rect x="337.19" y="12.45" width="5.8" height="5.8" fill="none" stroke="#1010f0" stroke-width="1.45"/>
<rect x="348.84" y="12.27" width="5.8" height="5.8" fill="none" stroke="#1010f0" stroke-width="1.45"/>
<rect x="360.5" y="12.1" width="5.8" height="5.8" fill="none" stroke="#1010f0" stroke-width="1.45"/>
<rect x="372.15" y="11.92" width="5.8" height="5.8" fill="none" stroke="#1010f0" stroke-width="1.45"/>
<rect x="383.81" y="11.75" width="5.8" height="5.8" fill="none" stroke="#1010f0" stroke-width="1.45"/>
<rect x="395.46" y="11.57" width="5.8" height="5.8" fill="none" stroke="#1010f0" stroke-width="1.45"/>
<rect x="407.12" y="11.4" width="5.8" height="5.8" fill="none" stroke="#1010f0" stroke-width="1.45"/>
<rect x="418.77" y="11.22" width="5.8" height="5.8" fill="none" stroke="#1010f0" stroke-width="1.45"/>
<rect x="430.15" y="10.85" width="5.8" height="5.8" fill="none" stroke="#1010f0" stroke-width="1.45"/>
<rect x="440.82" y="9.97" width="5.8" height="5.8" fill="none" stroke="#1010f0" stroke-width="1.45"/>
<rect x="451.95" y="9.42" width="5.8" height="5.8" fill="none" stroke="#1010f0" stroke-width="1.45"/>
<rect x="462.95" y="8.78" width="5.8" height="5.8" fill="none" stroke="#1010f0" stroke-width="1.45"/>
<rect x="474.16" y="8.28" width="5.8" height="5.8" fill="none" stroke="#1010f0" stroke-width="1.45"/>
<rect x="485.58" y="7.95" width="5.8" height="5.8" fill="none" stroke="#1010f0" stroke-width="1.45"/>
<rect x="497.04" y="7.63" width="5.8" height="5.8" fill="none" stroke="#1010f0" stroke-width="1.45"/>
<rect x="508.52" y="7.33" width="5.8" height="5.8" fill="none" stroke="#1010f0" stroke-width="1.45"/>
<rect x="520.06" y="7.07" width="5.8" height="5.8" fill="none" stroke="#1010f0" stroke-width="1.45"/>
<rect x="531.79" y="6.95" width="5.8" height="5.8" fill="none" stroke="#1010f0" stroke-width="1.45"/>
<rect x="543.53" y="6.84" width="5.8" height="5.8" fill="none" stroke="#1010f0" stroke-width="1.45"/>
<rect x="555.27" y="6.72" width="5.8" height="5.8" fill="none" stroke="#1010f0" stroke-width="1.45"/>
<rect x="567.11" y="6.68" width="5.8" height="5.8" fill="none" stroke="#1010f0" stroke-width="1.45"/>
<rect x="578.98" y="6.66" width="5.8" height="5.8" fill="none" stroke="#1010f0" stroke-width="1.45"/>
<rect x="590.85" y="6.64" width="5.8" height="5.8" fill="none" stroke="#1010f0" stroke-width="1.45"/>
<rect x="602.72" y="6.62" width="5.8" height="5.8" fill="none" stroke="#1010f0" stroke-width="1.45"/>
<rect x="614.59" y="6.6" width="5.8" height="5.8" fill="none" stroke="#1010f0" stroke-width="1.45"/>
<rect x="626.47" y="6.58" width="5.8" height="5.8" fill="none" stroke="#1010f0" stroke-width="1.45"/>
<rect x="638.34" y="6.55" width="5.8" height="5.8" fill="none" stroke="#1010f0" stroke-width="1.45"/>
<rect x="650.21" y="6.53" width="5.8" height="5.8" fill="none" stroke="#1010f0" stroke-width="1.45"/>
<rect x="662.08" y="6.51" width="5.8" height="5.8" fill="none" stroke="#1010f0" stroke-width="1.45"/>
<rect x="668.1" y="6.5" width="5.8" height="5.8" fill="none" stroke="#1010f0" stroke-width="1.45"/>
<polyline points="75,140 76,124 78,108 79.6,92 81,76 83,61 87.6,48.3 94.8,26.6 100,21.4 105.3,17 113.1,12.6 122.5,11.8 135,11 160,10.3 250,9.8 400,9.5 671,9.4" fill="none" stroke="#000000" stroke-width="1.7" stroke-linejoin="miter"/>
<text x="75" y="460.2" font-size="24.4" text-anchor="middle">0.0</text>
<text x="71.2" y="443.2" font-size="24.4" text-anchor="end">0.0</text>
<text x="134.6" y="460.2" font-size="24.4" text-anchor="middle">0.1</text>
<text x="71.2" y="400.68" font-size="24.4" text-anchor="end">0.1</text>
<text x="194.2" y="460.2" font-size="24.4" text-anchor="middle">0.2</text>
<text x="71.2" y="358.16" font-size="24.4" text-anchor="end">0.2</text>
<text x="253.8" y="460.2" font-size="24.4" text-anchor="middle">0.3</text>
<text x="71.2" y="315.64" font-size="24.4" text-anchor="end">0.3</text>
<text x="313.4" y="460.2" font-size="24.4" text-anchor="middle">0.4</text>
<text x="71.2" y="273.12" font-size="24.4" text-anchor="end">0.4</text>
<text x="373" y="460.2" font-size="24.4" text-anchor="middle">0.5</text>
<text x="71.2" y="230.6" font-size="24.4" text-anchor="end">0.5</text>
<text x="432.6" y="460.2" font-size="24.4" text-anchor="middle">0.6</text>
<text x="71.2" y="188.08" font-size="24.4" text-anchor="end">0.6</text>
<text x="492.2" y="460.2" font-size="24.4" text-anchor="middle">0.7</text>
<text x="71.2" y="145.56" font-size="24.4" text-anchor="end">0.7</text>
<text x="551.8" y="460.2" font-size="24.4" text-anchor="middle">0.8</text>
<text x="71.2" y="103.04" font-size="24.4" text-anchor="end">0.8</text>
<text x="611.4" y="460.2" font-size="24.4" text-anchor="middle">0.9</text>
<text x="71.2" y="60.52" font-size="24.4" text-anchor="end">0.9</text>
<text x="671" y="460.2" font-size="24.4" text-anchor="middle">1.0</text>
<text x="71.2" y="18" font-size="24.4" text-anchor="end">1.0</text>
<text x="373.6" y="491.3" font-size="29.8" letter-spacing="-0.1" text-anchor="middle">False positive rate</text>
<text transform="translate(21.8,210.8) rotate(-90)" x="0" y="0" font-size="30.2" text-anchor="middle">True positive rate</text>
<rect x="295" y="220" width="371.5" height="210.4" fill="#fff"/>
<line x1="295.1" y1="219.3" x2="295.1" y2="431" stroke="#6a6a6a" stroke-width="1.6"/>
<line x1="294.3" y1="220" x2="667" y2="220" stroke="#555" stroke-width="1.5"/>
<line x1="666.5" y1="219.3" x2="666.5" y2="431" stroke="#111" stroke-width="1.1"/>
<line x1="294.3" y1="430.4" x2="667" y2="430.4" stroke="#111" stroke-width="1.1"/>
<line x1="301" y1="236.3" x2="330" y2="236.3" stroke="#1010ff" stroke-width="1.5" stroke-dasharray="4.3 1.7"/>
<text x="334.2" y="244.6" font-size="24.7" letter-spacing="0.05">SVM (AUC=0.9723)</text>
<line x1="301" y1="265.77" x2="331" y2="265.77" stroke="#f812f8" stroke-width="1.7"/>
<circle cx="316" cy="265.77" r="2.75" fill="none" stroke="#f812f8" stroke-width="1.25"/>
<text x="334.2" y="274.25" font-size="24.7" letter-spacing="0.01">RF (AUC=0.9882)</text>
<line x1="301" y1="295.24" x2="331" y2="295.24" stroke="#24e6ea" stroke-width="1.7"/>
<path d="M316 291.74L319.01 295.24L316 298.74L312.99 295.24Z" fill="#24e6ea"/>
<text x="334.2" y="303.9" font-size="24.7" letter-spacing="0.01">k-NN (AUC=0.9683)</text>
<line x1="301" y1="324.71" x2="331" y2="324.71" stroke="#ff1010" stroke-width="1.7"/>
<path d="M316 321.11L319.7 327.31L312.3 327.31Z" fill="none" stroke="#ff1010" stroke-width="1.3" stroke-linejoin="miter"/>
<text x="334.2" y="333.55" font-size="24.7" letter-spacing="0.21">DT (AUC=0.9450)</text>
<line x1="301" y1="354.18" x2="331" y2="354.18" stroke="#1ef21e" stroke-width="1.7"/>
<path d="M312.8 354.18H319.2M316 350.98V357.38" stroke="#1ef21e" stroke-width="1.4"/>
<text x="334.2" y="363.2" font-size="24.7" letter-spacing="0.14">NB (AUC=0.8860)</text>
<line x1="301" y1="383.65" x2="331" y2="383.65" stroke="#1010f0" stroke-width="1.7"/>
<rect x="313.1" y="380.75" width="5.8" height="5.8" fill="none" stroke="#1010f0" stroke-width="1.45"/>
<text x="334.2" y="392.85" font-size="24.7" letter-spacing="0.14">LR (AUC=0.9632)</text>
<line x1="301" y1="413.12" x2="331" y2="413.12" stroke="#000000" stroke-width="1.7"/>
<text x="334.2" y="422.5" font-size="24.7" letter-spacing="-0.08">PlncRNA-HDeep (AUC=0.9934)</text>
</svg>
</body></html>
